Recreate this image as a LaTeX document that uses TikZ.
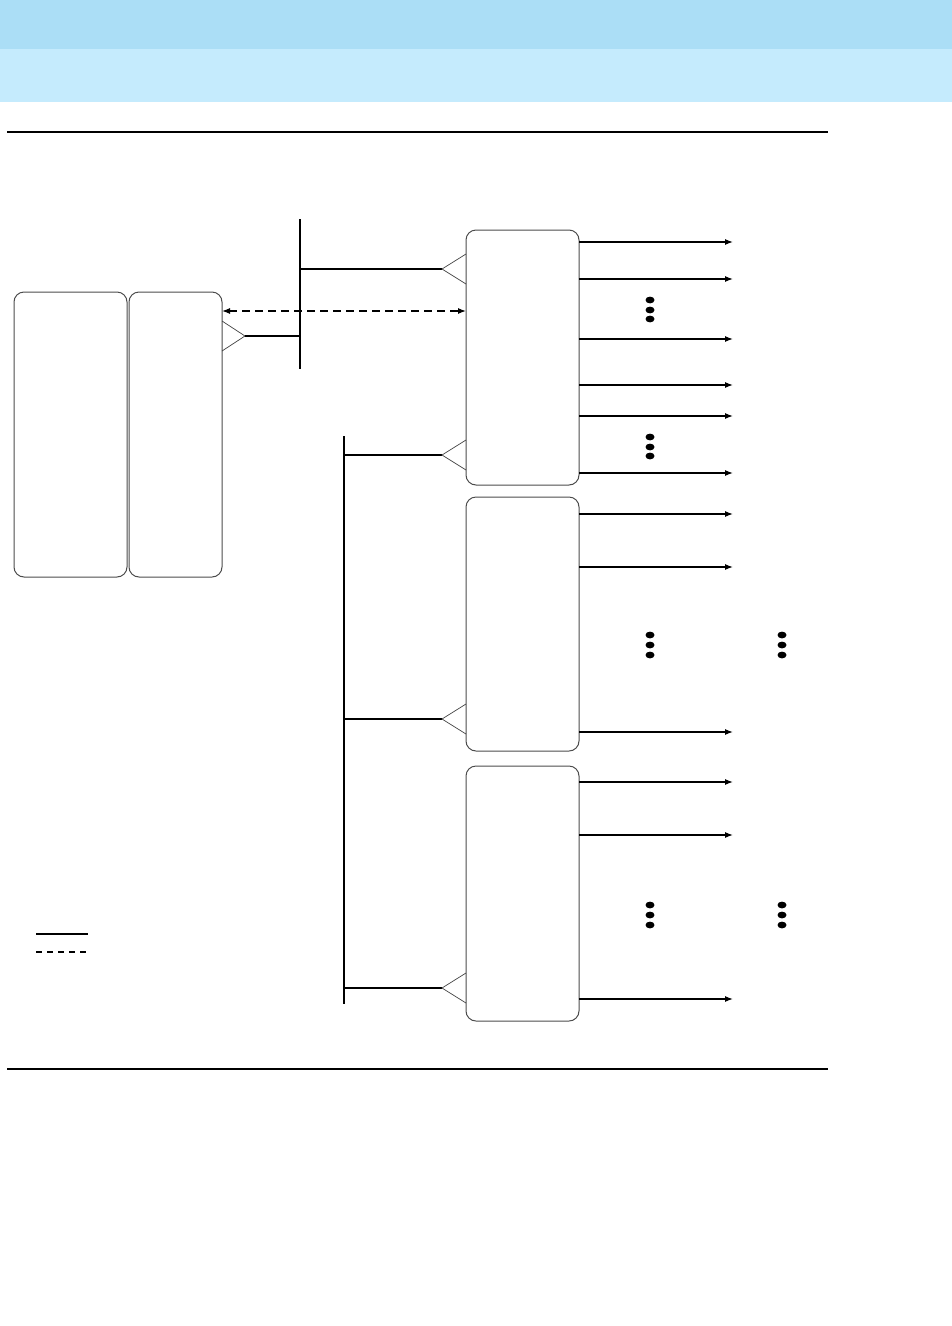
\documentclass[tikz,border=0pt]{standalone}
\usetikzlibrary{arrows.meta}
\definecolor{bandA}{HTML}{ABDEF6}
\definecolor{bandB}{HTML}{C5EBFD}
\begin{document}
\begin{tikzpicture}[x=1pt,y=-1pt,
  box/.style={draw=black!70,line width=1pt,rounded corners=10pt,inner sep=0pt,outer sep=0pt},
  wire/.style={line width=1.2pt},
  tri/.style={draw=black!75,line width=0.7pt},
  outarrow/.style={line width=1.2pt,-{Latex[length=8pt,width=6pt]}},
  rule/.style={line width=2pt}]
\useasboundingbox (0,0) rectangle (952,1326);
\fill[bandA] (0,0) rectangle (952,49);
\fill[bandB] (0,49) rectangle (952,102);
\draw[rule] (7,132) -- (828,132);
\draw[line width=1.5pt] (7,1069) -- (828,1069);

% boxes
\node[box,minimum width=113pt,minimum height=285pt] (A) at (70.5,434.5) {};
\node[box,minimum width=93pt,minimum height=285pt] (B) at (175.5,434.5) {};
\node[box,minimum width=113pt,minimum height=255pt] (C1) at (522.5,357.5) {};
\node[box,minimum width=113pt,minimum height=254pt] (C2) at (522.5,624) {};
\node[box,minimum width=113pt,minimum height=255pt] (C3) at (522.5,893.5) {};

% buses
\coordinate (bus1t) at (300,219);
\coordinate (bus1b) at (300,369);
\draw[wire] (bus1t) -- (bus1b);
\coordinate (bus2t) at (344,436);
\coordinate (bus2b) at (344,1004);
\draw[wire] (bus2t) -- (bus2b);

% B triangle to bus1
\coordinate (tB) at (245,336);
\draw[tri] (222,321) -- (tB) -- (222,351);
\draw[wire] (tB) -- (300,336);

% bus1 to C1
\coordinate (t1) at (442,269);
\draw[wire] (300,269) -- (t1);
\draw[tri] (466,254) -- (t1) -- (466,284);

% dashed
\draw[line width=1.2pt,dash pattern=on 8pt off 5pt,{Latex[length=8pt,width=6pt]}-{Latex[length=8pt,width=6pt]}] (B.east |- 0,311) -- (C1.west |- 0,311);

% bus2 to C1,C2,C3
\foreach \y/\n in {455/a,719/b,988/c}{
  \coordinate (t\n) at (442,\y);
  \draw[wire] (344,\y) -- (t\n);
  \draw[tri] (466,\y-15) -- (t\n) -- (466,\y+15);
}

% output arrows
\foreach \y in {242,279,339,385,416,473}{
  \draw[outarrow] (C1.east |- 0,\y) -- (733,\y);}
\foreach \y in {514,567,732}{
  \draw[outarrow] (C2.east |- 0,\y) -- (733,\y);}
\foreach \y in {782,835,999}{
  \draw[outarrow] (C3.east |- 0,\y) -- (733,\y);}

% dots
\foreach \x/\y in {650/300,650/310,650/319,650/437,650/447,650/456,
  650/635,650/645,650/655,782/635,782/645,782/655,
  650/905,650/915,650/925,782/905,782/915,782/925}{
  \fill (\x,\y) ellipse [x radius=4.5pt,y radius=3.4pt];}

% legend
\draw[wire] (36,934) -- (88,934);
\draw[wire,dash pattern=on 6pt off 5pt] (36,952) -- (88,952);
\end{tikzpicture}
\end{document}
